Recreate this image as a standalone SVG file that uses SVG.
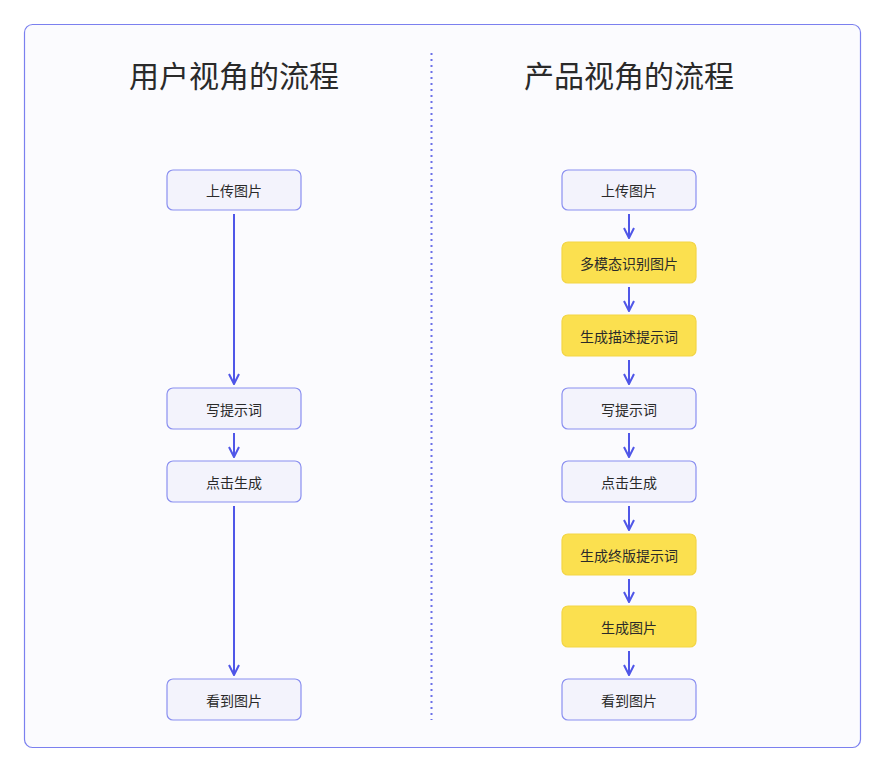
<svg xmlns="http://www.w3.org/2000/svg" width="886" height="773" viewBox="0 0 886 773">
<style>
.t{font-family:"Noto Sans CJK SC","Noto Sans",sans-serif;fill:#2a2a2a;}
.title{font-size:30px;text-anchor:middle;}
.lbl{font-size:14px;text-anchor:middle;dominant-baseline:central;}
.b{fill:#f3f3fc;stroke:#8a8ff0;stroke-width:1.2;}
.y{fill:#fbe04f;stroke:#f3d545;stroke-width:1.2;}
.c{stroke:#4f56e8;stroke-width:2;fill:none;}
</style>
<defs>
<marker id="ah" viewBox="0 0 12 12" refX="11" refY="6" markerWidth="12" markerHeight="12" markerUnits="userSpaceOnUse" orient="auto">
<path d="M1,1 L11,6 L1,11" fill="none" stroke="#4f56e8" stroke-width="2"/>
</marker>
</defs>
<rect x="24.5" y="24.5" width="836" height="723" rx="8" fill="#fbfbfe" stroke="#7b80ef" stroke-width="1.2"/>
<line x1="431.5" y1="53" x2="431.5" y2="720" stroke="#6b70e8" stroke-width="2" stroke-dasharray="2 4"/>
<text class="t title" x="234" y="87">用户视角的流程</text>
<text class="t title" x="629" y="87">产品视角的流程</text>
<g id="connectors">
<line class="c" x1="234" y1="214" x2="234" y2="384" marker-end="url(#ah)"/>
<line class="c" x1="234" y1="433" x2="234" y2="457" marker-end="url(#ah)"/>
<line class="c" x1="234" y1="506" x2="234" y2="675" marker-end="url(#ah)"/>
<line class="c" x1="629" y1="214" x2="629" y2="238" marker-end="url(#ah)"/>
<line class="c" x1="629" y1="287" x2="629" y2="311" marker-end="url(#ah)"/>
<line class="c" x1="629" y1="360" x2="629" y2="384" marker-end="url(#ah)"/>
<line class="c" x1="629" y1="433" x2="629" y2="457" marker-end="url(#ah)"/>
<line class="c" x1="629" y1="506" x2="629" y2="530" marker-end="url(#ah)"/>
<line class="c" x1="629" y1="579" x2="629" y2="602" marker-end="url(#ah)"/>
<line class="c" x1="629" y1="651" x2="629" y2="675" marker-end="url(#ah)"/>
</g>
<g id="u1"><rect class="b" x="167" y="170" width="134" height="40" rx="6"/><text class="t lbl" x="234" y="190">上传图片</text></g>
<g id="u2"><rect class="b" x="167" y="388" width="134" height="41" rx="6"/><text class="t lbl" x="234" y="408.5">写提示词</text></g>
<g id="u3"><rect class="b" x="167" y="461" width="134" height="41" rx="6"/><text class="t lbl" x="234" y="481.5">点击生成</text></g>
<g id="u4"><rect class="b" x="167" y="679" width="134" height="41" rx="6"/><text class="t lbl" x="234" y="699.5">看到图片</text></g>
<g id="p1"><rect class="b" x="562" y="170" width="134" height="40" rx="6"/><text class="t lbl" x="629" y="190">上传图片</text></g>
<g id="p2"><rect class="y" x="562" y="242" width="134" height="41" rx="6"/><text class="t lbl" x="629" y="262.5">多模态识别图片</text></g>
<g id="p3"><rect class="y" x="562" y="315" width="134" height="41" rx="6"/><text class="t lbl" x="629" y="335.5">生成描述提示词</text></g>
<g id="p4"><rect class="b" x="562" y="388" width="134" height="41" rx="6"/><text class="t lbl" x="629" y="408.5">写提示词</text></g>
<g id="p5"><rect class="b" x="562" y="461" width="134" height="41" rx="6"/><text class="t lbl" x="629" y="481.5">点击生成</text></g>
<g id="p6"><rect class="y" x="562" y="534" width="134" height="41" rx="6"/><text class="t lbl" x="629" y="554.5">生成终版提示词</text></g>
<g id="p7"><rect class="y" x="562" y="606" width="134" height="41" rx="6"/><text class="t lbl" x="629" y="626.5">生成图片</text></g>
<g id="p8"><rect class="b" x="562" y="679" width="134" height="41" rx="6"/><text class="t lbl" x="629" y="699.5">看到图片</text></g>
</svg>
